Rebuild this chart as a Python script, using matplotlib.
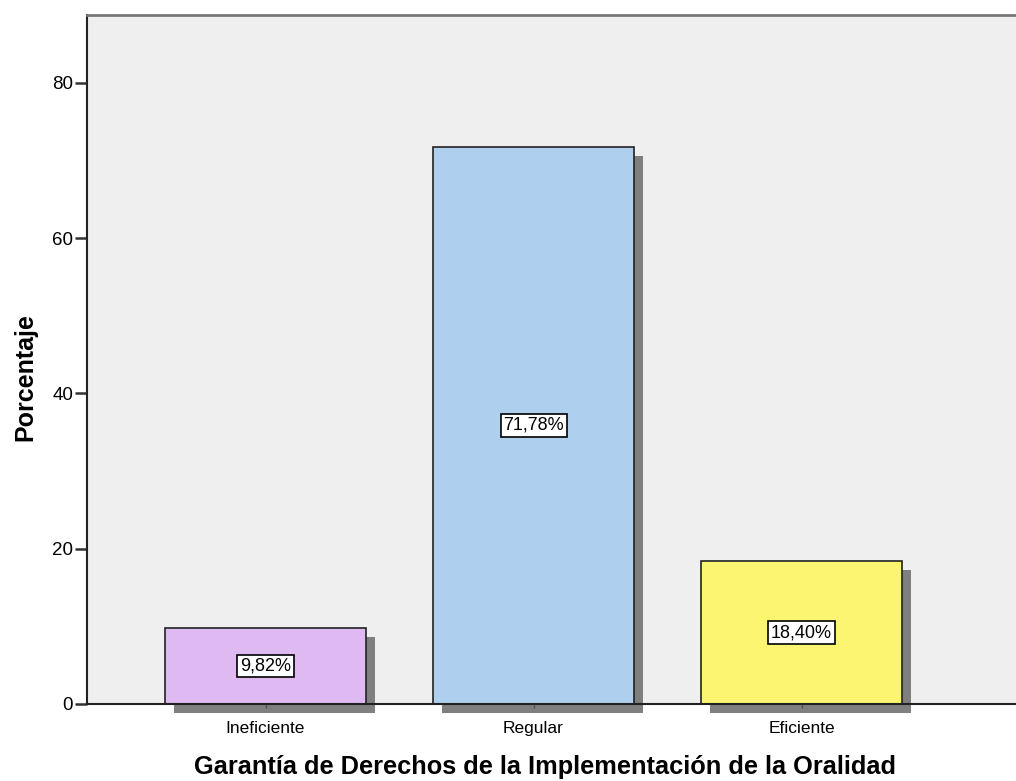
import matplotlib
matplotlib.use("Agg")
import matplotlib.pyplot as plt
from matplotlib.patches import Rectangle
import matplotlib.transforms as mtransforms

plt.rcParams['font.family'] = ['Liberation Sans', 'DejaVu Sans']

categories = ["Ineficiente", "Regular", "Eficiente"]
values = [9.82, 71.78, 18.40]
labels = ["9,82%", "71,78%", "18,40%"]
colors = ["#DFB9F1", "#AECFEE", "#FBF571"]
yticks = [0, 20, 40, 60, 80]

W, H = 1016, 781
fig = plt.figure(figsize=(W / 100, H / 100), dpi=100)
ax = fig.add_axes([87 / W, (781 - 704) / H, (1016 - 87) / W, (704 - 15) / H])
ax.set_facecolor("#EFEFEF")

x = list(range(len(categories)))
width = 0.75
ax.set_xlim(-0.666, 2.80)
ax.set_ylim(0, 88.76)

# shadows offset in pixels
off = mtransforms.offset_copy(ax.transData, fig=fig, x=9, y=-9, units='dots')
for xi, v in zip(x, values):
    ax.add_patch(Rectangle((xi - width / 2, 0), width, v, facecolor="#7F7F7F",
                           edgecolor="none", transform=off, clip_on=False, zorder=1))
bars = ax.bar(x, values, width=width, color=colors, edgecolor="#222222",
              linewidth=1.2, zorder=2)
for xi, v, lab in zip(x, values, labels):
    ax.text(xi, v / 2, lab, ha="center", va="center", fontsize=13, zorder=3,
            bbox=dict(boxstyle="square,pad=0.15", facecolor="white",
                      edgecolor="black", linewidth=1.2))

ax.set_xticks(x)
ax.set_xticklabels(categories, fontsize=12.5)
ax.set_yticks(yticks)
ax.set_yticklabels([str(t) for t in yticks], fontsize=13.5)
ax.tick_params(axis='y', length=8.5, width=1.8, color="#333333", pad=1.5)
ax.tick_params(axis='x', length=3, width=1, color="#555555", pad=9)

ax.spines["right"].set_visible(False)
ax.spines["top"].set_color("#777777")
ax.spines["top"].set_linewidth(2)
ax.spines["left"].set_color("#222222")
ax.spines["left"].set_linewidth(1.5)
ax.spines["bottom"].set_color("#222222")
ax.spines["bottom"].set_linewidth(1.5)
ax.spines["bottom"].set_zorder(5)

ax.set_ylabel("Porcentaje", fontsize=18, fontweight="bold")
ax.yaxis.set_label_coords((25 - 87) / 929, (704 - 377) / 689)
ax.set_xlabel("Garantía de Derechos de la Implementación de la Oralidad",
              fontsize=18.3, fontweight="bold")
ax.xaxis.set_label_coords((545 - 87) / 929, -(767 - 704) / 689)
ax.xaxis.label.set_va("center")
ax.yaxis.label.set_va("center")

fig.savefig("out.png", dpi=100)
